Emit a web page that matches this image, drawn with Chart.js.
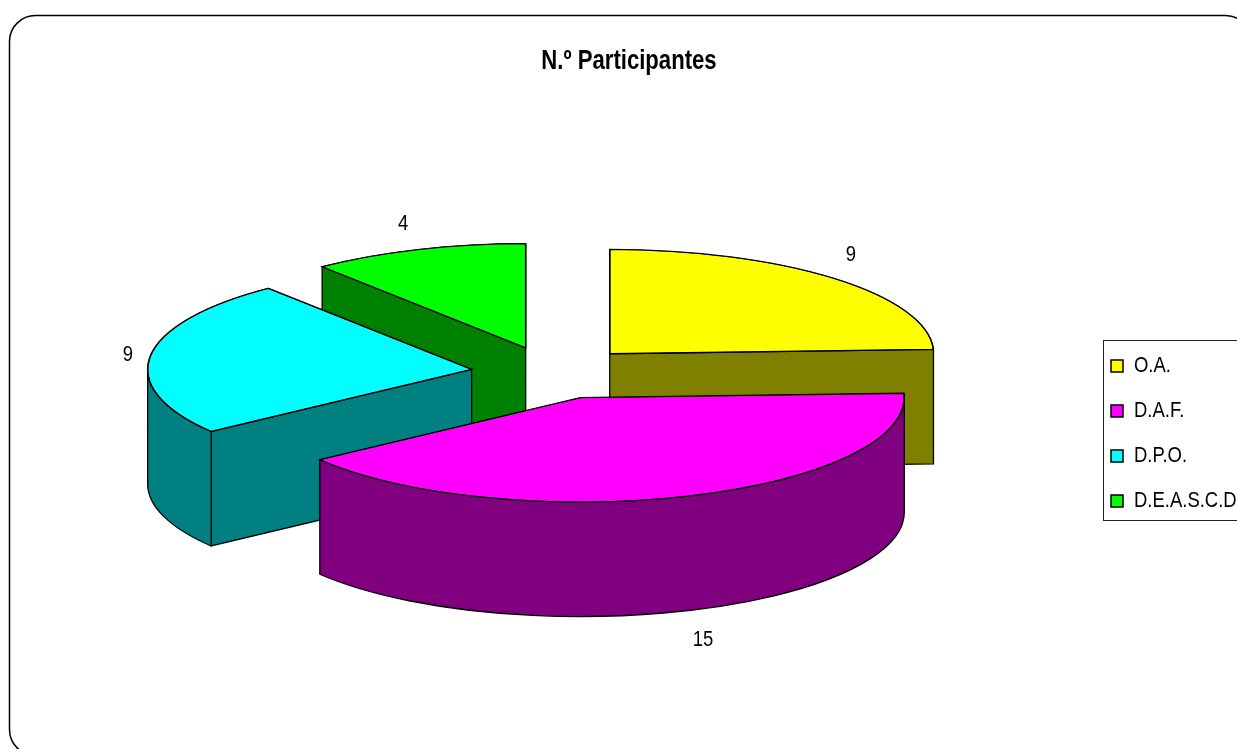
<!DOCTYPE html>
<html lang="pt">
<head>
<meta charset="utf-8">
<title>N.º Participantes</title>
<script src="https://cdn.jsdelivr.net/npm/chart.js@4/dist/chart.umd.min.js"></script>
<style>
  html, body { margin: 0; padding: 0; background: #fff; overflow: hidden; }
  canvas { display: block; }
</style>
</head>
<body>
<canvas id="pieChart" width="1237" height="749"></canvas>
<script>
'use strict';

// ── Data ──────────────────────────────────────────────────────────────────────
const CATEGORIES = ['O.A.', 'D.A.F.', 'D.P.O.', 'D.E.A.S.C.D'];
const VALUES     = [9, 15, 9, 4];
const TOP_COLORS  = ['#ffff00', '#ff00ff', '#00ffff', '#00ff00'];
const SIDE_COLORS = ['#808000', '#800080', '#008080', '#008000'];

// ── Look of the fake 3D pie ───────────────────────────────────────────────────
const FONT         = '"Liberation Sans", Arial, sans-serif';
const NARROW       = 0.84;    // no Arial Narrow here, so condense the text by hand
const NARROW_BOLD  = 0.79;
const RADIUS       = 324;
const SQUASH       = 0.322;   // vertical scale of the disc
const DEPTH        = 114.5;   // height of the side walls
const EXPLODE      = 82;      // how far each slice is pulled out
const LABEL_RX     = 350;
const LABEL_RY     = 135;
const LABEL_NUDGE  = [[-1, -1.5], [6, 0], [3.5, 3], [-6, 3.5]];

// ── Plugin: frame, legend box, extruded slices, value labels ──────────────────
const pie3d = {
  id: 'pie3d',

  afterLayout(chart) {
    // legend sits lower than Chart.js would put it
    const lg = chart.legend;
    lg.left = 1088; lg.right = 1237; lg.top = 332; lg.bottom = 749;
  },

  beforeDraw(chart) {
    const ctx = chart.ctx;
    ctx.save();
    ctx.fillStyle = '#fff';
    ctx.fillRect(0, 0, chart.width, chart.height);
    ctx.strokeStyle = '#000';
    ctx.lineWidth = 1.5;
    ctx.beginPath();
    ctx.roundRect(9.5, 15.5, 1242, 740, 26);
    ctx.stroke();
    ctx.lineWidth = 1;
    ctx.strokeStyle = '#222';
    ctx.strokeRect(1103.5, 340.5, 140, 180);
    ctx.restore();
  },

  beforeDatasetsDraw(chart) {
    const ctx  = chart.ctx;
    const arcs = chart.getDatasetMeta(0).data;

    // back to front
    const order = arcs.map((arc, i) => ({ arc, i, mid: (arc.startAngle + arc.endAngle) / 2 }))
      .sort((a, b) => Math.sin(a.mid) - Math.sin(b.mid));

    order.forEach(({ arc, i, mid }) => {
      const dx = Math.cos(mid) * EXPLODE;
      const dy = Math.sin(mid) * EXPLODE * SQUASH;
      drawWalls(ctx, arc, arc.x + dx, arc.y + dy, SIDE_COLORS[i]);

      // top face: the library's own arc, squashed
      ctx.save();
      ctx.translate(dx, dy + arc.y);
      ctx.scale(1, SQUASH);
      ctx.translate(0, -arc.y);
      arc.draw(ctx);
      ctx.restore();
      // stroke the same path again, unscaled, so the line weight stays even
      ctx.lineWidth = 1.3;
      ctx.strokeStyle = '#000';
      ctx.stroke();
    });

    // value labels
    ctx.save();
    ctx.fillStyle = '#000';
    ctx.font = '22px ' + FONT;
    ctx.textAlign = 'center';
    ctx.textBaseline = 'middle';
    order.forEach(({ arc, i, mid }) => {
      const tx = arc.x + Math.cos(mid) * EXPLODE;
      const ty = arc.y + Math.sin(mid) * EXPLODE * SQUASH;
      const ly = ty + Math.sin(mid) * LABEL_RY + (Math.sin(mid) > 0 ? DEPTH : 0);
      ctx.fillText(String(VALUES[i]), tx + Math.cos(mid) * LABEL_RX + LABEL_NUDGE[i][0], ly + LABEL_NUDGE[i][1]);
    });
    ctx.restore();
    return false;
  }
};

function drawWalls(ctx, arc, tx, ty, color) {
  const R  = arc.outerRadius;
  const a0 = arc.startAngle;
  const a1 = arc.endAngle;

  ctx.save();
  ctx.fillStyle   = color;
  ctx.strokeStyle = '#000';
  ctx.lineWidth   = 1.3;

  const radialFace = a => {
    const px = tx + R * Math.cos(a);
    const py = ty + R * SQUASH * Math.sin(a);
    ctx.beginPath();
    ctx.moveTo(tx, ty);
    ctx.lineTo(px, py);
    ctx.lineTo(px, py + DEPTH);
    ctx.lineTo(tx, ty + DEPTH);
    ctx.closePath();
    ctx.fill();
    ctx.stroke();
  };

  // only faces turned to the viewer
  if (Math.cos(a0) < -1e-6) radialFace(a0);
  if (Math.cos(a1) >  1e-6) radialFace(a1);

  // curved wall, front half of the ellipse only
  const from = Math.max(a0, 0);
  const to   = Math.min(a1, Math.PI);
  if (to > from) {
    ctx.beginPath();
    ctx.ellipse(tx, ty, R, R * SQUASH, 0, from, to);
    ctx.ellipse(tx, ty + DEPTH, R, R * SQUASH, 0, to, from, true);
    ctx.closePath();
    ctx.fill();
    ctx.stroke();
  }
  ctx.restore();
}

// ── Chart ─────────────────────────────────────────────────────────────────────
const ctx2d = document.getElementById('pieChart').getContext('2d');

const rawFillText = ctx2d.fillText.bind(ctx2d);
ctx2d.fillText = (text, x, y) => {
  const squeeze = ctx2d.font.includes('bold') ? NARROW_BOLD : NARROW;
  rawFillText(text, x, y, ctx2d.measureText(text).width * squeeze);
};

new Chart(ctx2d, {
  type: 'pie',
  data: {
    labels: CATEGORIES,
    datasets: [{
      data:            VALUES,
      backgroundColor: TOP_COLORS,
      borderColor:     '#000',
      borderWidth:     1.5,
      radius:          RADIUS
    }]
  },
  options: {
    responsive: false,
    animation:  false,
    devicePixelRatio: 1,
    layout: { padding: { left: 21, right: 0, top: 0, bottom: 90 } },
    plugins: {
      tooltip: { enabled: false },
      title: {
        display: true,
        text:    'N.º Participantes',
        color:   '#000',
        font:    { family: FONT, size: 28, weight: 'bold' },
        padding: { top: 44, bottom: 9 }
      },
      legend: {
        position: 'right',
        align:    'start',
        maxWidth: 152,
        labels: {
          color:     '#000',
          font:      { family: FONT, size: 22 },
          boxWidth:  12,
          boxHeight: 12,
          padding:   23
        }
      }
    }
  },
  plugins: [pie3d]
});
</script>
</body>
</html>
